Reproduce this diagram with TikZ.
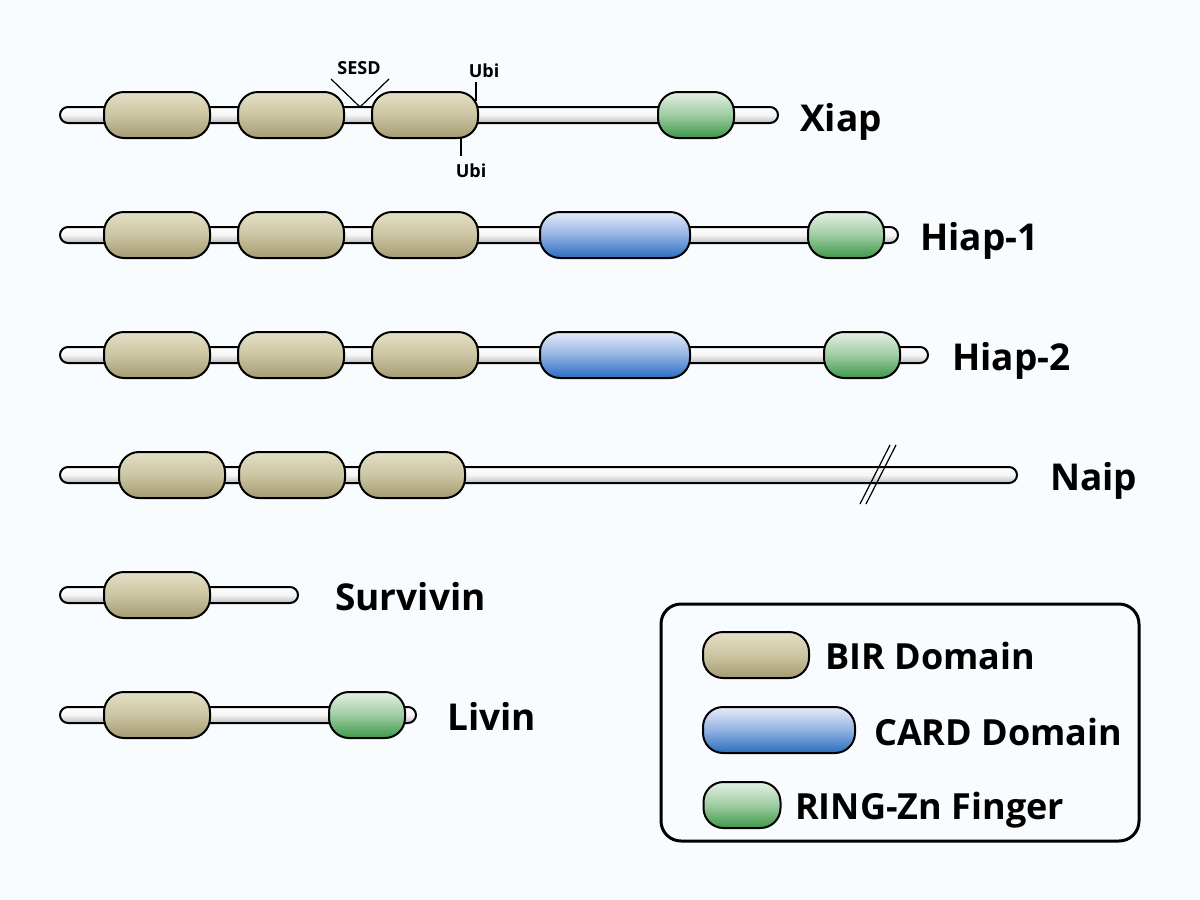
\documentclass[tikz,border=0pt]{standalone}
\usepackage{fontspec}
\setmainfont{Open Sans}
\definecolor{bg}{HTML}{F8FCFE}
\definecolor{birT}{HTML}{E4DFC6}
\definecolor{birM}{HTML}{CCC5A2}
\definecolor{birB}{HTML}{A39B72}
\definecolor{cardT}{HTML}{E6ECF8}
\definecolor{cardM}{HTML}{92B2E2}
\definecolor{cardB}{HTML}{2A6DC0}
\definecolor{ringT}{HTML}{E4F1E4}
\definecolor{ringM}{HTML}{9ECCA2}
\definecolor{ringB}{HTML}{3E984A}
\definecolor{barB}{HTML}{BDBDC2}
\tikzset{
  every picture/.style={x=1pt,y=-1pt},
  protbar/.style={draw=black,line width=2pt,top color=white,bottom color=barB,middle color=white!92!gray,rounded corners=8pt},
  domshape/.style={draw=black,line width=2pt,rounded corners=20pt,minimum height=46pt,inner sep=0pt},
  birdom/.style={domshape,minimum width=106pt,top color=birT,bottom color=birB,middle color=birM},
  carddom/.style={domshape,minimum width=150pt,top color=cardT,bottom color=cardB,middle color=cardM},
  ringdom/.style={domshape,minimum width=76pt,top color=ringT,bottom color=ringB,middle color=ringM},
  protname/.style={anchor=base west,font=\fontsize{37}{40}\selectfont\bfseries,inner sep=0pt},
  legtext/.style={anchor=base west,font=\fontsize{36}{40}\selectfont\bfseries,inner sep=0pt},
  smalltxt/.style={anchor=base,font=\fontsize{18}{20}\selectfont\bfseries,inner sep=0pt},
  tickln/.style={line width=1.2pt}
}
\begin{document}
\begin{tikzpicture}
\fill[bg] (0,0) rectangle (1200,900);
\useasboundingbox (0,0) rectangle (1200,900);
% Xiap
\draw[protbar] (60,107) rectangle (778,123);
\node[birdom] (x1) at (157,115) {};
\node[birdom] (x2) at (291,115) {};
\node[birdom] (x3) at (425,115) {};
\node[ringdom] (x4) at (696,115) {};
\node[protname] (xl) at (800,131) {Xiap};
\node[smalltxt] (sesd) at (359,74) {SESD};
\coordinate (sv) at (360,107);
\coordinate (sa) at (331,79);
\coordinate (sb) at (389,79);
\draw[tickln] (sa) -- (sv) -- (sb);
\node[smalltxt] (ubt) at (484,77) {Ubi};
\coordinate (ut1) at (476,82);
\coordinate (ut2) at (476,101);
\draw[tickln] (ut1) -- (ut2);
\node[smalltxt] (ubb) at (471,177) {Ubi};
\coordinate (ub1) at (461,138);
\coordinate (ub2) at (461,156);
\draw[tickln] (ub1) -- (ub2);
% Hiap-1
\draw[protbar] (60,227) rectangle (898,243);
\node[birdom] (h1) at (157,235) {};
\node[birdom] (h2) at (291,235) {};
\node[birdom] (h3) at (425,235) {};
\node[carddom] (h4) at (615,235) {};
\node[ringdom] (h5) at (846,235) {};
\node[protname] (hl) at (920,250) {Hiap-1};
% Hiap-2
\draw[protbar] (60,347) rectangle (928,363);
\node[birdom] (g1) at (157,355) {};
\node[birdom] (g2) at (291,355) {};
\node[birdom] (g3) at (425,355) {};
\node[carddom] (g4) at (615,355) {};
\node[ringdom] (g5) at (862,355) {};
\node[protname] (gl) at (952,370) {Hiap-2};
% Naip
\draw[protbar] (60,467) rectangle (1017,483);
\node[birdom] (n1) at (172,475) {};
\node[birdom] (n2) at (292,475) {};
\node[birdom] (n3) at (412,475) {};
\coordinate (na1) at (890,445);
\coordinate (na2) at (860,504);
\coordinate (nb1) at (896,445);
\coordinate (nb2) at (866,504);
\draw[tickln] (na1) -- (na2);
\draw[tickln] (nb1) -- (nb2);
\node[protname] (nl) at (1050,490) {Naip};
% Survivin
\draw[protbar] (60,587) rectangle (298,603);
\node[birdom] (s1) at (157,595) {};
\node[protname] (sl) at (335,610) {Survivin};
% Livin
\draw[protbar] (60,707) rectangle (416,723);
\node[birdom] (l1) at (157,715) {};
\node[ringdom] (l2) at (367,715) {};
\node[protname] (ll) at (447,730) {Livin};
% Legend
\draw[line width=3pt,rounded corners=20pt,fill=bg] (661,604) rectangle (1139,841);
\node[birdom] (k1) at (756,655) {};
\node[legtext] (k1t) at (825,669) {BIR Domain};
\node[carddom,minimum width=152pt] (k2) at (779,730) {};
\node[legtext] (k2t) at (874,745) {CARD Domain};
\node[ringdom,minimum width=77pt] (k3) at (742,805) {};
\node[legtext] (k3t) at (795,819) {RING-Zn Finger};
\end{tikzpicture}
\end{document}
